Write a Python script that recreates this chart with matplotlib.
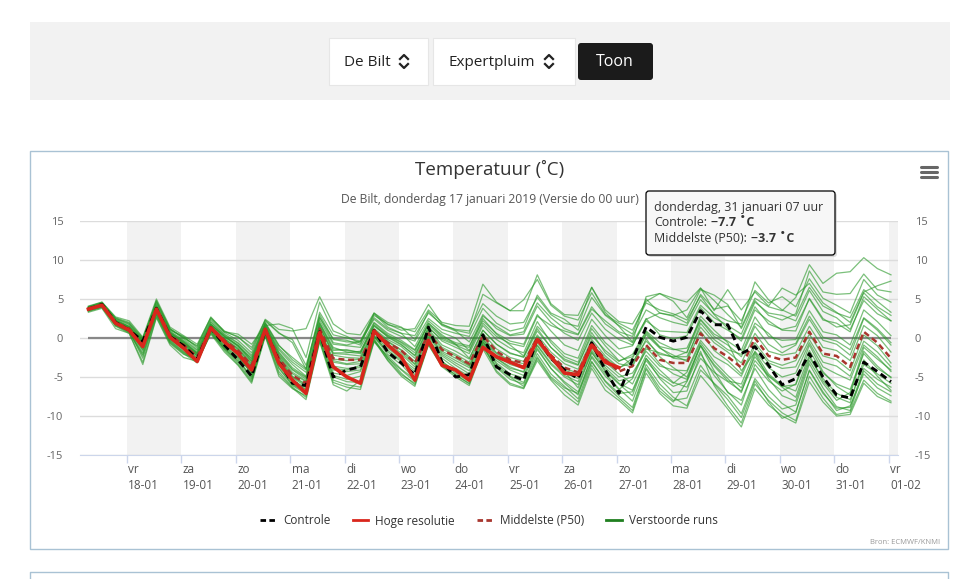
import matplotlib
matplotlib.use('Agg')
import matplotlib.pyplot as plt
import matplotlib.transforms as mtransforms
from matplotlib.patches import Rectangle, FancyBboxPatch
from matplotlib.lines import Line2D
import pandas as pd

plt.rcParams['font.family'] = ['Open Sans', 'DejaVu Sans']
plt.rcParams['axes.unicode_minus'] = False

W, H = 973, 579

eerste_tijd = '2019-01-17 07:00'

controle = [3.7, 4.3, 2.0, 1.0, -0.4, 3.8, 0.2, -1.0, -2.7, 1.3, -0.9, -2.8,
            -4.9, 1.0, -3.0, -5.8, -6.1, 0.8, -5.0, -4.1, -3.7, 1.0, -1.8, -3.2,
            -4.7, 1.4, -3.1, -5.0, -4.7, 0.4, -3.7, -4.7, -5.4, 0.0, -2.6, -4.1,
            -5.2, -0.6, -4.1, -7.1, -2.8, 1.4, 0.1, -0.4, 0.1, 3.5, 1.7, 1.7,
            -2.0, -1.1, -3.5, -6.0, -5.2, -2.0, -5.0, -7.3, -7.7, -3.1, -4.3, -5.6]

hoge_resolutie = [3.7, 4.2, 1.9, 1.0, -1.1, 3.7, 0.1, -1.3, -3.0, 1.3, -0.5, -2.0,
                  -4.1, 1.1, -3.2, -5.4, -7.1, 0.7, -3.7, -5.0, -5.8, 0.9, -0.9, -2.4,
                  -5.4, -0.3, -3.5, -4.1, -5.4, -1.2, -2.4, -3.1, -3.8, -0.2, -2.4, -4.5,
                  -4.7, -0.9, -3.1, -3.8]

middelste = [3.8, 4.2, 2.0, 1.2, -0.9, 3.8, 0.4, -0.9, -2.4, 1.4, -0.3, -1.6,
             -3.5, 1.2, -2.6, -4.8, -5.8, 1.2, -2.6, -2.8, -2.8, 0.9, -0.6, -1.6,
             -3.2, 0.6, -1.5, -2.4, -3.3, 0.3, -1.7, -2.8, -3.2, 0.0, -2.2, -3.8,
             -4.4, -0.6, -2.8, -4.3, -3.6, -0.9, -2.8, -3.2, -3.2, 0.6, -1.3, -2.4,
             -3.8, 0.0, -2.3, -2.8, -2.5, 0.8, -2.0, -2.3, -3.7, 0.8, -0.6, -2.6]

verstoorde_runs = [
    [3.9, 4.4, 2.3, 1.5, -0.5, 4.1, 0.8, -0.4, -1.8, 1.8, 0.2, -0.9, -2.7, 1.6, -1.5, -3.4, -4.9, 2.0, -1.2, -1.8, -2.0, 1.6, 0.3, -0.6, -1.9, 1.9, 0.4, -0.8, -1.2, 2.8, 1.5, 0.4, 0.8, 4.5, 2.6, 1.2, 0.5, 4.0, 1.8, 0.6, -0.6, 2.4, 3.2, 2.9, 3.6, 6.4, 4.8, 3.0, 1.4, 5.1, 4.0, 3.5, 5.2, 9.4, 7.0, 8.3, 8.5, 10.3, 8.9, 8.1],
    [3.5, 4.0, 1.6, 0.7, -2.1, 3.0, -0.4, -1.8, -3.0, 0.6, -1.4, -3.2, -5.4, 0.3, -4.3, -6.3, -7.6, -0.4, -5.4, -6.0, -6.3, -0.3, -2.5, -4.5, -6.0, -0.8, -3.6, -4.7, -5.9, -0.9, -4.2, -5.8, -6.4, -2.6, -5.2, -6.7, -8.2, -3.5, -6.1, -7.7, -9.3, -4.0, -6.8, -8.2, -5.6, -1.7, -6.1, -8.7, -10.9, -5.9, -8.0, -9.6, -10.6, -4.9, -7.7, -9.8, -9.5, -5.4, -7.1, -8.1],
    [3.8, 4.3, 2.1, 1.3, -0.6, 4.0, 0.6, -0.5, -2.0, 1.7, 0.3, -1.0, -2.9, 1.8, -1.8, -3.8, -5.0, 1.9, -1.6, -1.5, -1.9, 1.5, 0.2, -0.8, -2.3, 1.4, -0.4, -1.2, -2.0, 1.6, -0.2, -1.3, -1.9, 2.1, -0.6, -2.4, -3.1, 1.2, -1.0, -2.9, -2.4, 0.8, -1.1, -1.5, -1.3, 2.4, 0.5, -0.4, -1.6, 2.7, 0.2, -0.3, -0.2, 3.5, 0.8, 0.4, -0.9, 3.6, 2.1, 0.3],
    [3.6, 4.2, 1.8, 0.9, -1.6, 3.4, -0.1, -1.5, -3.1, 1.0, -1.2, -2.7, -5.2, 0.6, -3.5, -5.9, -6.9, 0.4, -4.5, -4.8, -4.3, 0.2, -2.1, -3.4, -5.3, -0.2, -3.2, -4.5, -5.6, -0.8, -3.4, -4.9, -5.7, -1.5, -3.9, -5.6, -6.9, -2.5, -4.9, -6.6, -5.2, -1.4, -1.9, -2.5, -1.8, 2.8, 1.0, -0.6, -4.2, -1.8, -4.6, -6.1, -6.8, -2.2, -5.5, -7.6, -8.3, -2.8, -4.9, -6.7],
    [4.0, 4.5, 2.4, 1.7, -0.2, 4.4, 1.0, 0.2, -1.3, 2.3, 0.7, -0.3, -1.9, 2.4, 1.1, 0.9, 1.2, 5.3, 1.8, 0.6, 0.4, 3.2, 1.7, 1.3, 0.8, 3.6, 2.0, 1.6, 1.5, 6.9, 4.6, 3.5, 4.9, 7.5, 4.2, 2.8, 2.3, 5.8, 3.0, 1.9, 1.0, 4.5, 3.6, 3.1, 2.3, 5.4, 3.0, 1.2, -0.4, 3.6, 2.2, 1.0, 0.9, 5.1, 2.5, 1.4, 1.7, 5.8, 4.0, 2.9],
    [3.9, 4.5, 2.6, 2.0, 0.0, 4.6, 1.2, 0.0, -1.0, 2.7, 0.8, 0.2, -1.5, 2.2, 0.6, -0.2, -3.5, 2.6, -0.1, -0.3, -0.9, 2.9, 1.8, 1.0, 1.2, 4.3, 1.8, 1.0, 0.6, 5.6, 4.5, 3.5, 3.5, 8.1, 4.4, 3.0, 2.9, 6.5, 3.3, 1.5, -0.5, 5.3, 5.7, 5.1, 4.6, 6.4, 3.5, 6.2, 3.6, 5.9, 4.1, 6.4, 5.5, 7.0, 4.5, 3.3, 2.0, 5.9, 6.7, 7.3],
    [3.7, 4.1, 1.9, 1.1, -1.3, 3.5, 0.1, -1.2, -2.8, 1.2, -0.8, -2.2, -4.6, 0.8, -3.4, -5.6, -6.6, 0.2, -4.1, -4.3, -4.1, 0.3, -1.8, -3.0, -4.7, -0.2, -2.6, -3.9, -4.9, -0.6, -3.2, -4.6, -5.1, -1.3, -3.9, -5.8, -7.3, -2.3, -4.6, -6.5, -8.1, -3.4, -5.9, -7.6, -8.7, -4.1, -5.8, -7.4, -9.7, -5.2, -7.5, -9.1, -8.6, -3.3, -6.4, -8.8, -9.3, -4.2, -5.9, -6.9],
    [3.8, 4.2, 2.0, 1.2, -0.8, 3.9, 0.5, -0.8, -2.3, 1.5, -0.2, -1.5, -3.4, 1.3, -2.4, -4.6, -5.6, 1.4, -2.2, -2.5, -2.6, 1.1, -0.4, -1.5, -3.0, 0.9, -1.2, -2.1, -3.1, 0.6, -1.4, -2.5, -3.0, 0.4, -1.8, -3.3, -4.0, -0.2, -2.3, -3.8, -3.1, -0.4, -2.1, -2.4, -2.4, 1.4, -0.6, -1.8, -3.2, 0.6, -1.7, -2.2, -1.9, 1.5, -1.2, -1.6, -2.9, 1.6, 0.3, -1.8],
    [3.7, 4.1, 1.9, 1.0, -1.2, 3.6, 0.3, -1.1, -2.6, 1.3, -0.5, -1.9, -3.9, 1.0, -2.9, -5.1, -6.2, 0.9, -3.1, -3.4, -3.3, 0.6, -1.0, -2.1, -3.7, 0.3, -1.9, -2.9, -3.8, -0.1, -2.3, -3.4, -3.9, -0.6, -2.8, -4.5, -5.2, -1.3, -3.5, -5.0, -4.5, -1.7, -3.6, -4.1, -4.2, -0.3, -2.4, -3.4, -4.9, -1.1, -3.2, -3.9, -3.7, -0.2, -3.1, -3.6, -4.9, -0.4, -1.8, -3.7],
    [3.9, 4.3, 2.2, 1.4, -0.4, 4.1, 0.7, -0.6, -1.9, 1.8, 0.1, -1.1, -2.6, 1.9, -1.3, -3.1, -4.4, 2.3, -0.8, -1.0, -1.2, 2.0, 0.6, -0.3, -1.5, 1.9, 0.2, -0.6, -1.0, 2.2, 0.6, -0.4, -0.8, 3.0, 0.9, -0.9, -1.6, 2.4, 0.3, -1.4, -1.0, 2.5, 0.4, -0.1, 0.3, 3.9, 2.0, 1.0, -0.1, 4.0, 1.8, 1.1, 1.5, 5.0, 2.3, 1.9, 0.8, 5.3, 3.7, 2.2],
    [3.5, 4.0, 1.7, 0.8, -1.9, 3.2, -0.3, -1.7, -3.0, 0.8, -1.4, -3.0, -5.0, 0.5, -3.9, -6.1, -7.2, -0.1, -5.0, -5.6, -5.7, -0.4, -2.8, -4.7, -5.8, -0.6, -3.1, -4.2, -5.1, -0.5, -2.6, -3.9, -4.3, 0.2, -2.4, -4.3, -6.4, -1.8, -4.3, -5.9, -7.4, -2.6, -5.2, -7.0, -6.8, -2.0, -4.8, -6.9, -8.6, -3.4, -5.5, -6.8, -5.9, -0.9, -4.3, -6.2, -7.3, -1.7, -3.6, -5.1],
    [3.8, 4.3, 2.1, 1.3, -0.7, 3.9, 0.5, -0.7, -2.1, 1.6, -0.1, -1.3, -3.1, 1.5, -2.1, -4.1, -5.3, 1.6, -1.9, -1.9, -1.7, 1.7, 0.1, -0.9, -2.2, 1.3, -0.2, -0.9, -1.7, 1.9, 0.2, -0.7, -1.1, 2.8, 1.6, 0.9, 0.4, 3.7, 2.2, 0.8, 0.2, 3.6, 2.6, 2.0, 1.6, 4.9, 3.1, 2.2, 1.8, 7.2, 4.9, 3.6, 2.8, 6.5, 4.1, 3.2, 2.6, 6.2, 4.7, 3.3],
    [3.6, 4.0, 1.8, 0.9, -2.6, 2.9, -0.6, -2.0, -3.2, 0.7, -1.6, -3.4, -5.6, 0.4, -4.6, -6.4, -7.9, -0.5, -6.0, -6.8, -5.4, -0.2, -2.9, -4.9, -6.2, -0.9, -3.7, -5.0, -6.1, -1.4, -4.4, -6.0, -6.5, -2.9, -5.4, -7.3, -8.6, -3.9, -6.7, -8.0, -9.6, -4.5, -7.1, -8.7, -9.0, -4.8, -6.9, -9.1, -11.4, -6.5, -8.6, -10.0, -10.9, -5.6, -8.2, -10.0, -9.8, -5.8, -7.5, -8.3],
    [4.0, 4.6, 2.5, 1.8, -0.3, 4.8, 1.2, -0.1, -1.5, 2.1, 0.5, -0.6, -2.2, 2.0, -0.9, -2.8, -4.1, 3.0, -0.2, -0.5, -0.5, 2.4, 1.0, 0.2, -0.4, 2.5, 1.1, 0.6, 0.2, 3.8, 1.9, 0.9, 1.3, 5.5, 3.2, 2.4, 1.0, 5.2, 2.9, 1.6, 0.5, 5.0, 3.2, 2.8, 1.9, 5.6, 3.7, 4.1, 2.2, 6.1, 4.5, 5.3, 4.0, 7.6, 5.1, 4.2, 3.2, 7.5, 5.5, 4.6],
    [3.7, 4.2, 2.0, 1.1, -1.0, 3.7, 0.3, -1.0, -2.5, 1.4, -0.4, -1.8, -3.7, 1.1, -2.7, -5.0, -6.0, 1.0, -2.9, -3.3, -3.0, 0.7, -0.8, -1.9, -3.4, 0.4, -1.7, -2.6, -3.6, -0.2, -2.0, -3.1, -3.6, -0.1, -2.4, -4.1, -4.8, -0.9, -3.1, -4.6, -5.9, -2.2, -4.1, -5.7, -6.3, -2.6, -4.4, -5.6, -6.8, -2.9, -4.9, -6.3, -7.6, -2.5, -5.2, -7.1, -7.9, -3.4, -4.6, -5.8],
    [4.1, 4.6, 2.7, 2.2, 0.1, 5.0, 1.4, 0.3, -0.8, 2.6, 0.9, 0.1, -1.2, 2.3, 0.7, -0.6, -4.0, 2.7, -0.6, -0.9, -0.4, 3.1, 1.4, 0.6, -1.1, 2.2, 0.7, 0.0, -1.6, 2.5, 0.5, -0.9, -2.3, 1.5, -0.3, -2.0, -2.6, 1.6, -0.6, -2.1, -3.5, 0.6, -1.2, -2.6, -2.8, 1.9, -0.2, -1.5, -2.1, 1.9, 0.6, -1.2, -0.7, 2.8, 0.1, -0.4, -1.5, 2.6, 1.2, -0.6],
    [3.4, 3.9, 1.5, 0.6, -3.4, 2.6, -0.9, -2.5, -3.0, 0.5, -1.8, -3.5, -5.8, 0.2, -4.9, -6.5, -7.4, -0.2, -5.7, -6.3, -6.6, -0.5, -2.3, -4.0, -5.3, -0.4, -3.0, -4.3, -5.5, -1.0, -3.8, -5.3, -5.9, -2.0, -4.6, -6.2, -7.8, -3.1, -5.5, -7.1, -6.9, -2.9, -5.0, -6.2, -5.5, -1.0, -4.2, -7.0, -8.0, -3.9, -6.6, -8.4, -9.5, -4.1, -6.9, -9.3, -8.7, -4.6, -6.4, -7.4],
    [3.8, 4.3, 2.0, 1.2, -0.9, 3.8, 0.4, -0.9, -2.3, 1.5, -0.3, -1.7, -3.6, 1.2, -2.5, -4.9, -5.9, 1.1, -2.7, -2.9, -2.7, 0.9, -0.5, -1.6, -3.3, 0.6, -1.4, -2.3, -3.5, 0.2, -1.9, -2.9, -3.3, -0.1, -2.3, -3.9, -4.5, -0.7, -2.6, -3.9, -2.6, 0.4, -1.3, -2.2, -3.0, 0.9, -1.6, -2.9, -4.6, -0.6, -2.9, -3.5, -2.9, 0.5, -2.3, -2.8, -4.2, 0.4, -1.0, -3.2],
    [3.9, 4.4, 2.3, 1.5, -0.3, 4.3, 0.9, -0.3, -1.6, 2.0, 0.4, -0.7, -2.4, 1.9, -1.0, -2.5, -3.9, 3.3, 0.4, 0.0, -0.4, 2.6, 1.2, 0.6, 0.3, 3.2, 1.7, 1.1, 0.9, 4.4, 2.8, 1.8, 2.0, 5.2, 3.0, 1.9, 1.5, 6.5, 3.6, 2.1, 1.8, 4.7, 5.7, 4.7, 2.6, 6.2, 5.5, 4.3, 1.2, 4.8, 2.9, 2.3, 3.1, 8.6, 5.9, 5.6, 5.7, 8.2, 6.2, 5.9],
    [3.6, 4.1, 1.8, 1.0, -1.5, 3.3, -0.2, -1.4, -2.9, 1.1, -1.0, -2.4, -4.3, 0.9, -3.2, -5.4, -6.4, 0.6, -3.6, -3.9, -3.8, 0.1, -1.6, -2.8, -4.3, -0.3, -2.3, -3.5, -4.6, -0.5, -2.9, -4.1, -4.8, -1.0, -3.4, -5.0, -6.0, -1.9, -4.1, -5.8, -6.7, -2.6, -4.6, -5.8, -4.4, -0.6, -3.0, -4.8, -6.4, -2.4, -4.8, -6.2, -6.0, -1.6, -4.5, -5.9, -6.6, -2.0, -3.9, -5.0],
    [3.8, 4.4, 2.2, 1.4, -0.6, 4.0, 0.7, -0.5, -2.0, 1.7, 0.2, -1.0, -3.0, 1.6, -1.9, -4.0, -5.1, 1.8, -1.4, -1.6, -1.8, 1.9, 0.4, -0.5, -1.6, 1.7, 0.0, -0.8, -2.6, 1.0, -0.8, -2.0, -2.4, 1.2, -1.2, -2.9, -3.5, 0.7, -1.9, -3.3, -3.7, -0.1, -2.4, -3.8, -5.0, -1.0, -3.4, -5.2, -7.0, -2.0, -5.2, -7.4, -8.1, -2.9, -5.8, -8.0, -7.0, -1.2, -2.7, -4.1],
    [4.0, 4.5, 2.5, 1.9, -0.1, 4.7, 1.1, 0.1, -1.1, 2.5, 0.8, 0.5, -0.8, 1.6, 1.8, 1.2, -2.5, 4.6, 0.9, 0.2, -0.7, 3.2, 2.0, 1.4, -0.2, 3.4, 1.6, 0.9, -0.5, 3.0, 1.2, 0.3, 0.5, 4.1, 2.0, 0.6, -0.3, 3.2, 1.1, -0.2, -0.9, 2.2, 0.9, 0.8, 0.7, 4.2, 2.6, 1.6, 0.5, 4.6, 3.2, 2.9, 2.2, 6.1, 3.4, 2.6, 1.1, 4.8, 3.1, 2.2],
    [3.5, 4.0, 1.6, 0.8, -2.3, 3.1, -0.5, -1.9, -2.9, 0.9, -1.3, -2.9, -4.9, 0.6, -3.8, -6.0, -7.0, 0.0, -4.8, -5.3, -4.9, -0.1, -2.6, -4.1, -5.6, -0.7, -3.4, -4.8, -5.8, -1.2, -3.7, -5.0, -6.2, -2.4, -5.0, -6.4, -7.1, -3.0, -5.6, -7.4, -8.9, -3.8, -6.4, -8.0, -7.7, -3.5, -5.9, -7.9, -10.2, -5.5, -8.2, -10.3, -9.6, -4.2, -7.1, -9.0, -8.9, -3.9, -5.3, -6.3],
    [3.8, 4.3, 2.1, 1.3, -0.7, 3.9, 0.6, -0.7, -2.2, 1.5, -0.1, -1.4, -3.3, 1.4, -2.2, -4.4, -5.5, 1.5, -2.0, -2.1, -2.3, 1.2, -0.2, -1.1, -2.6, 1.1, -0.9, -1.7, -2.7, 1.0, -0.8, -1.9, -2.5, 0.9, -1.2, -2.7, -3.4, 0.3, -1.6, -3.0, -2.1, 0.9, -0.6, -1.4, -1.9, 2.3, 0.2, -0.9, -2.4, 1.5, -0.8, -1.9, -0.9, 2.4, -0.3, -0.8, -2.2, 2.5, 1.0, -0.9],
    [3.3, 3.8, 1.2, 0.6, -3.1, 2.7, -0.7, -2.1, -2.7, 1.0, -1.1, -2.5, -4.5, 1.1, -3.0, -5.3, -6.7, 0.8, -3.9, -4.1, -3.5, 0.3, -1.3, -2.6, -4.0, 0.1, -2.1, -3.2, -4.2, -0.3, -2.6, -3.7, -4.4, -0.9, -3.2, -4.8, -5.6, -1.6, -3.8, -5.5, -5.0, -1.1, -3.3, -4.6, -5.3, -0.9, -3.6, -5.5, -5.9, -1.7, -3.8, -5.0, -4.5, -0.6, -3.7, -4.6, -5.4, -0.9, -2.4, -4.3],
]

dagnamen = ['vr', 'za', 'zo', 'ma', 'di', 'wo', 'do', 'vr', 'za', 'zo', 'ma', 'di', 'wo', 'do', 'vr']
datums = ['18-01', '19-01', '20-01', '21-01', '22-01', '23-01', '24-01', '25-01',
          '26-01', '27-01', '28-01', '29-01', '30-01', '31-01', '01-02']
y_ticks = [-15, -10, -5, 0, 5, 10, 15]

tijden = pd.date_range(eerste_tijd, periods=len(controle), freq='6h')
dag_ticks = pd.date_range('2019-01-18', periods=len(datums), freq='D')

fig = plt.figure(figsize=(W / 100, H / 100), dpi=100)
px = mtransforms.IdentityTransform()


def rect(x0, y0, x1, y1, **kw):
    r = Rectangle((x0, H - y1), x1 - x0, y1 - y0, transform=px, **kw)
    fig.add_artist(r)
    return r


def line(xs, ys, **kw):
    fig.add_artist(Line2D(xs, [H - y for y in ys], transform=px, **kw))


# page header with the select boxes
rect(30, 22, 950, 100, facecolor='#f2f2f2', edgecolor='none')
rect(329, 38, 428, 85, facecolor='white', edgecolor='#e6e6e6', lw=0.8)
rect(433, 38, 575, 85, facecolor='white', edgecolor='#e6e6e6', lw=0.8)
fig.add_artist(FancyBboxPatch((578, H - 80), 75, 37, boxstyle='round,pad=0,rounding_size=3',
                              transform=px, facecolor='#1b1b1b', edgecolor='none'))
knop = dict(transform=px, va='center', fontsize=11, color='#222')
fig.text(344, H - 62, 'De Bilt', ha='left', **knop)
fig.text(449, H - 62, 'Expertpluim', ha='left', **knop)
fig.text(615, H - 62, 'Toon', ha='center', **{**knop, 'color': 'white', 'fontsize': 11.5})
for cx in (404, 549):
    line([cx - 4, cx, cx + 4], [59, 55, 59], color='#222', lw=1.6)
    line([cx - 4, cx, cx + 4], [64, 68, 64], color='#222', lw=1.6)

# chart containers
rect(30, 151, 948, 549, facecolor='none', edgecolor='#a9c2d4', lw=1)
line([30, 30, 948, 948], [585, 572, 572, 585], color='#a9c2d4', lw=1)

fig.text(490, H - 169, 'Temperatuur (˚C)', transform=px, ha='center', va='center',
         fontsize=13.5, color='#333')
fig.text(490, H - 199, 'De Bilt, donderdag 17 januari 2019 (Versie do 00 uur)', transform=px,
         ha='center', va='center', fontsize=8.7, color='#555')
for yy in (167, 172, 177):
    line([921, 937], [yy, yy], color='#666', lw=2.2, solid_capstyle='round')

# --- the plume ---
ax = fig.add_axes([80 / W, (H - 455) / H, 818 / W, 234 / H])
for dag in dag_ticks[::2]:
    ax.axvspan(dag, dag + pd.Timedelta(days=1), color='#f2f2f2', lw=0, zorder=0)

ax.hlines(0, tijden[0], tijden[-1], color='#888888', lw=1.6, zorder=1)
for run in verstoorde_runs:
    ax.plot(tijden, run, color='#2a992a', lw=0.9, alpha=0.62, zorder=2)
ax.plot(tijden, middelste, color='#a8362e', lw=1.8, ls=(0, (2.4, 1.5)), zorder=3)
ax.plot(tijden, controle, color='black', lw=2.1, ls=(0, (2.4, 1.5)), zorder=4)
ax.plot(tijden[:len(hoge_resolutie)], hoge_resolutie, color='#d9261c', lw=2.6, zorder=5)

ax.set_xlim(tijden[0] - pd.Timedelta(hours=3.7), tijden[-1] + pd.Timedelta(hours=3.1))
ax.set_ylim(-15, 15)
ax.set_yticks(y_ticks)
ax.set_xticks(dag_ticks)
ax.set_xticklabels([f'{d}\n{dt}' for d, dt in zip(dagnamen, datums)])
ax.grid(axis='y', color='#dcdcdc', lw=1)
ax.set_axisbelow(True)
for side in ('top', 'left', 'right'):
    ax.spines[side].set_visible(False)
ax.spines['bottom'].set_color('#ccd6eb')
ax.tick_params(axis='y', length=0, pad=12, labelsize=8, labelcolor='#666',
               labelleft=True, labelright=True)
ax.tick_params(axis='x', length=6, width=1, color='#ccd6eb', pad=0, labelsize=8.5,
               labelcolor='#555')
shift = mtransforms.ScaledTranslation(1 / 72, 0, fig.dpi_scale_trans)
for lab in ax.get_xticklabels():
    lab.set_ha('left')
    lab.set_multialignment('left')
    lab.set_linespacing(1.3)
    lab.set_transform(lab.get_transform() + shift)

# legend
handles = [Line2D([], [], color='black', lw=2, ls=(0, (2.0, 1.2))),
           Line2D([], [], color='#d9261c', lw=2),
           Line2D([], [], color='#a8362e', lw=2, ls=(0, (2.0, 1.2))),
           Line2D([], [], color='#1f7f1f', lw=2)]
fig.legend(handles, ['Controle', 'Hoge resolutie', 'Middelste (P50)', 'Verstoorde runs'],
           loc='center', bbox_to_anchor=(489 / W, 1 - 521 / H), ncol=4, frameon=False,
           fontsize=8.5, handlelength=1.3, handletextpad=0.6, columnspacing=1.9,
           labelcolor='#333')
fig.text(940, H - 543, 'Bron: ECMWF/KNMI', transform=px, ha='right', va='center',
         fontsize=5.5, color='#999')

# tooltip
fig.add_artist(FancyBboxPatch((648, H - 257), 189, 64, boxstyle='round,pad=0,rounding_size=3',
                              transform=px, facecolor='#bbbbbb', edgecolor='none', alpha=0.5))
fig.add_artist(FancyBboxPatch((646, H - 255), 189, 64, boxstyle='round,pad=0,rounding_size=3',
                              transform=px, facecolor='#f7f7f7', edgecolor='black', lw=0.9))
tip = dict(transform=px, ha='left', va='center', fontsize=8.9, color='#333')
fig.text(654, H - 207, 'donderdag, 31 januari 07 uur', **tip)
t_con = fig.text(654, H - 222, 'Controle:', **tip)
t_p50 = fig.text(654, H - 238, 'Middelste (P50):', **tip)
fig.canvas.draw()
for t, waarde in ((t_con, '−7.7 ˚C'), (t_p50, '−3.7 ˚C')):
    bb = t.get_window_extent()
    fig.text(bb.x1 + 4, (bb.y0 + bb.y1) / 2, waarde, fontweight='bold', **{**tip, 'transform': px})

fig.savefig('out.png', dpi=100)
